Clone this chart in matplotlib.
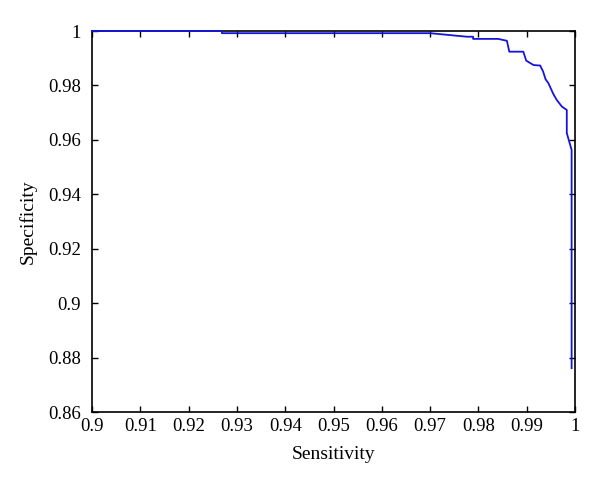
import matplotlib
matplotlib.use("Agg")
import matplotlib.pyplot as plt

sensitivity = [0.9, 0.9269, 0.9269, 0.9700, 0.9776, 0.9789, 0.9789, 0.9841,
               0.9859, 0.9864, 0.9893, 0.9899, 0.9914, 0.9928, 0.9934, 0.9939,
               0.9945, 0.9955, 0.9962, 0.9973, 0.9983, 0.9983, 0.9993, 0.9993]
specificity = [1.0, 1.0, 0.9992, 0.9992, 0.9979, 0.9979, 0.9971, 0.9971,
               0.9964, 0.9924, 0.9924, 0.9891, 0.9875, 0.9873, 0.9851, 0.9823,
               0.9808, 0.9769, 0.9747, 0.9722, 0.9710, 0.9625, 0.9563, 0.8761]

xticks = [0.9, 0.91, 0.92, 0.93, 0.94, 0.95, 0.96, 0.97, 0.98, 0.99, 1.0]
xticklabels = ["0.9", "0.91", "0.92", "0.93", "0.94", "0.95", "0.96", "0.97", "0.98", "0.99", "1"]
yticks = [0.86, 0.88, 0.9, 0.92, 0.94, 0.96, 0.98, 1.0]
yticklabels = ["0.86", "0.88", "0.9", "0.92", "0.94", "0.96", "0.98", "1"]

plt.rcParams['font.family'] = ['Liberation Serif', 'DejaVu Serif']

fig = plt.figure(figsize=(6, 4.9), dpi=100)
ax = fig.add_axes([92/600, 1-412/490, (575-92)/600, (412-31)/490])
ax.plot(sensitivity, specificity, color='#1414dc', lw=1.3, zorder=5, clip_on=False)
ax.set_xlim(0.9, 1.0)
ax.set_ylim(0.86, 1.0)
ax.set_xticks(xticks)
ax.set_xticklabels(xticklabels)
ax.set_yticks(yticks)
ax.set_yticklabels(yticklabels)
ax.tick_params(direction='in', top=True, right=True, length=4, width=1.0,
               labelsize=13.5, color='black')
ax.tick_params(axis='x', pad=4)
ax.tick_params(axis='y', pad=8)
for s in ax.spines.values():
    s.set_linewidth(1.2)
    s.set_zorder(2)
ax.set_xlabel("Sensitivity", fontsize=14, labelpad=8)
ax.set_ylabel("Specificity", fontsize=14, labelpad=8)
fig.savefig("out.png", dpi=100)
